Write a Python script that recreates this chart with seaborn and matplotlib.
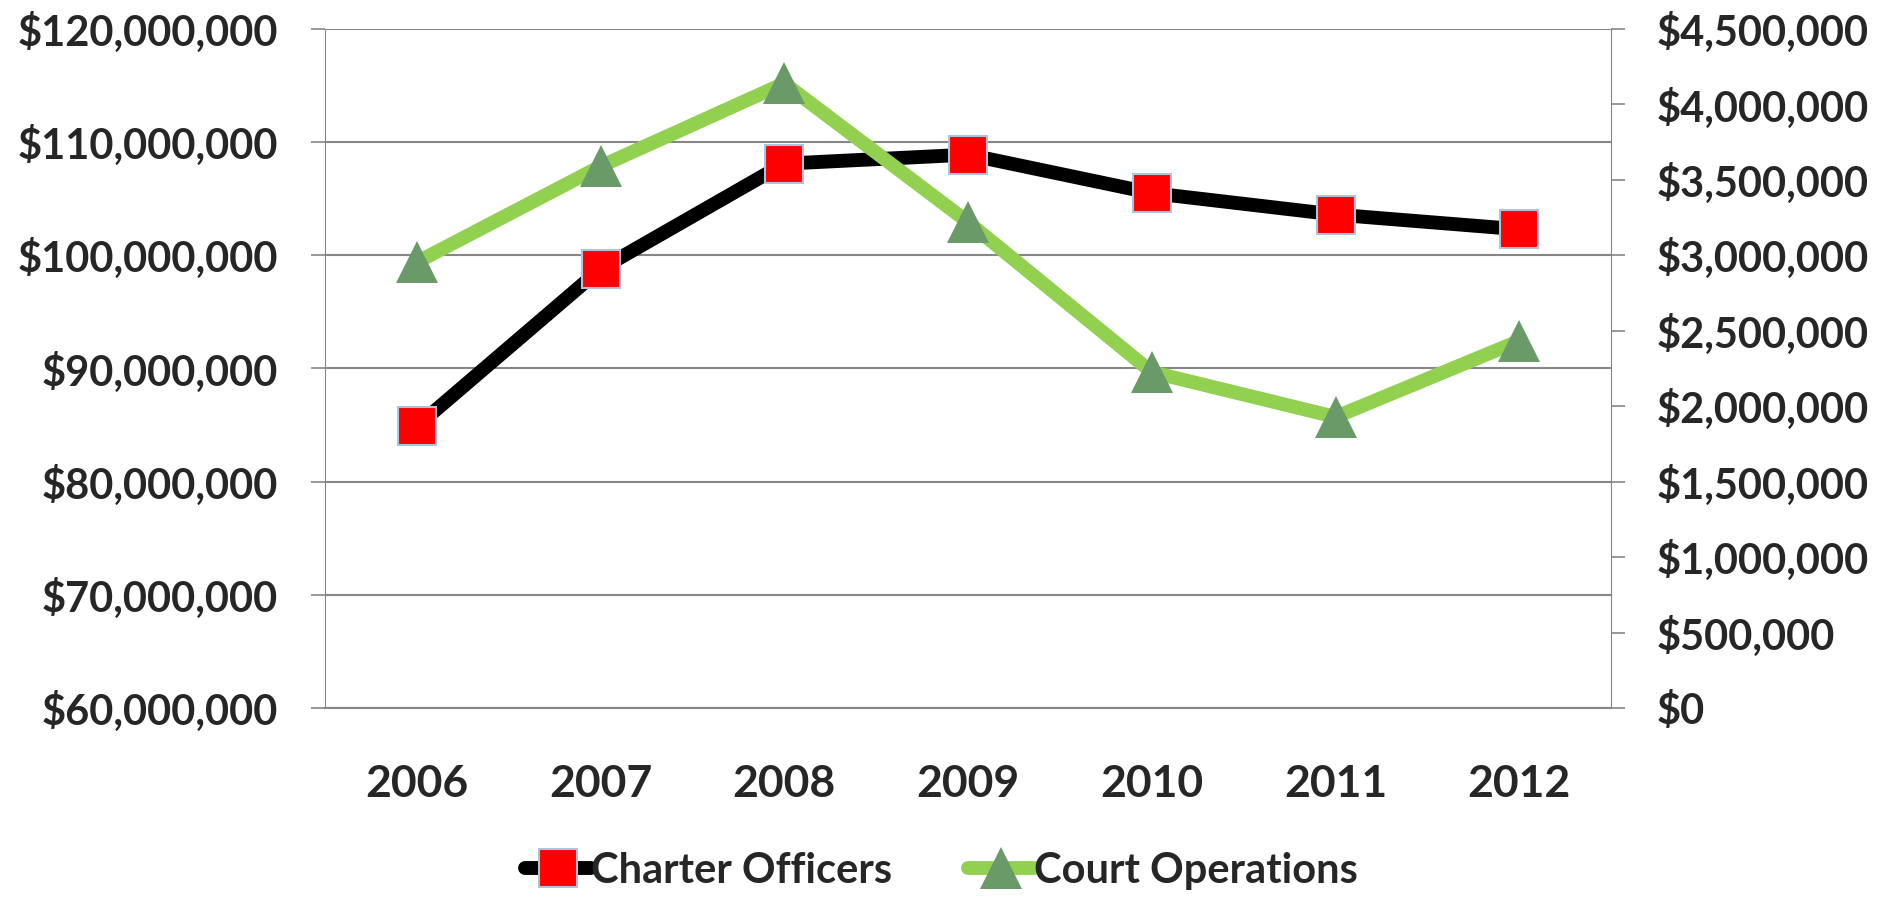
import numpy as np
import pandas as pd
import matplotlib
matplotlib.use("Agg")
import matplotlib.pyplot as plt
from matplotlib.ticker import FuncFormatter, FixedLocator
import seaborn as sns

# data
years = ["2006", "2007", "2008", "2009", "2010", "2011", "2012"]
charter_officers = [84.9e6, 98.8e6, 108.1e6, 108.9e6, 105.5e6, 103.6e6, 102.3e6]
court_operations = [2.955e6, 3.59e6, 4.14e6, 3.22e6, 2.226e6, 1.929e6, 2.433e6]

df = pd.DataFrame({"year": years, "x": np.arange(len(years)),
                   "Charter Officers": charter_officers,
                   "Court Operations": court_operations})

sns.set_style("white")
plt.rcParams["font.family"] = ["Lato", "DejaVu Sans"]
plt.rcParams["font.weight"] = "bold"

grid_col = "#868686"
fs = 30

fig = plt.figure(figsize=(18.83, 8.98), dpi=100)
ax = fig.add_axes([0.1726, 0.2116, 0.6830, 0.7561])
ax2 = ax.twinx()

sns.lineplot(data=df, x="x", y="Charter Officers", ax=ax, color="black",
             linewidth=10, marker="s", markersize=28, markerfacecolor="#ff0000",
             markeredgecolor="#a9c4dc", markeredgewidth=1.5, label="Charter Officers",
             legend=False, zorder=3)
sns.lineplot(data=df, x="x", y="Court Operations", ax=ax2, color="#92d050",
             linewidth=10, marker="^", markersize=30, markerfacecolor="#699a68",
             markeredgecolor="#699a68", markeredgewidth=0, label="Court Operations",
             legend=False, zorder=3)

ax.set_xlim(-0.5, len(years) - 0.5)
ax.set_ylim(60e6, 120e6)
ax2.set_ylim(0, 4.5e6)

money = FuncFormatter(lambda v, p: "${:,.0f}".format(v))
ax.yaxis.set_major_locator(FixedLocator(np.arange(60e6, 120.1e6, 10e6)))
ax.yaxis.set_major_formatter(money)
ax2.yaxis.set_major_locator(FixedLocator(np.arange(0, 4.51e6, 0.5e6)))
ax2.yaxis.set_major_formatter(money)

ax.set_xticks(df["x"])
ax.set_xticklabels(years)
ax.set_xticks(np.arange(-0.5, len(years), 1.0), minor=True)
ax.tick_params(axis="x", which="major", length=0, pad=40, labelsize=32)
ax.tick_params(axis="x", which="minor", length=11, width=1.2, color=grid_col, direction="out")
ax.tick_params(axis="y", length=10, width=1.2, color=grid_col, direction="out", pad=24, labelsize=fs)
ax2.tick_params(axis="y", length=10, width=1.2, color=grid_col, direction="out", pad=23, labelsize=fs)

ax.set_xlabel("")
ax.set_ylabel("")
ax2.set_ylabel("")
ax.grid(axis="y", color=grid_col, linewidth=1.5)
ax.grid(axis="x", visible=False)
ax2.grid(False)
for a in (ax, ax2):
    for s in a.spines.values():
        s.set_visible(False)
ax.spines["left"].set_visible(True)
ax.spines["left"].set_color(grid_col)
ax.spines["bottom"].set_visible(True)
ax.spines["bottom"].set_color(grid_col)
ax.spines["bottom"].set_linewidth(1.5)
ax2.spines["right"].set_visible(True)
ax2.spines["right"].set_color(grid_col)

for lab in ax.get_xticklabels() + ax.get_yticklabels() + ax2.get_yticklabels():
    lab.set_fontweight("bold")

h1, l1 = ax.get_legend_handles_labels()
h2, l2 = ax2.get_legend_handles_labels()
fig.legend(h1 + h2, l1 + l2, loc="center", bbox_to_anchor=(0.5, 0.03), ncol=2,
           frameon=False, handlelength=1.6, handletextpad=0.0,
           columnspacing=1.8, prop={"size": fs, "weight": "bold"})

fig.savefig("out.png", dpi=100)
